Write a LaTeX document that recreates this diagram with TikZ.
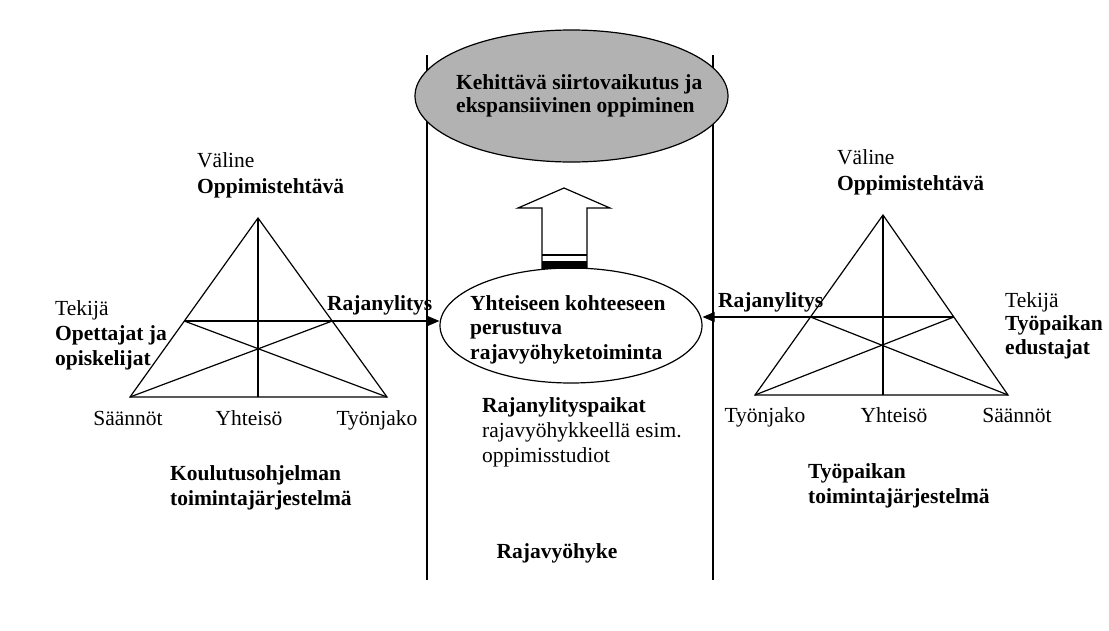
\documentclass[tikz,border=0pt]{standalone}
\usepackage{fontspec}
\setmainfont{Liberation Serif}
\usetikzlibrary{arrows.meta,shapes.geometric}
\begin{document}
\begin{tikzpicture}[x=1pt,y=-1pt,
  every node/.style={font=\fontsize{21.5}{24.5}\selectfont, inner sep=0pt},
  lab/.style={anchor=base west, align=left},
  mid/.style={anchor=base},
  ln/.style={line width=1.2pt, line join=miter},
  link/.style={line width=1.2pt, -{Triangle[length=12pt,width=10pt]}}
]
\useasboundingbox[fill=white] (0,0) rectangle (1109,630);

% boundary lines of the border zone
\coordinate (V1t) at (427,55);  \coordinate (V1b) at (427,580);
\coordinate (V2t) at (713,55);  \coordinate (V2b) at (713,580);
\draw[ln] (V1t) -- (V1b);
\draw[ln] (V2t) -- (V2b);

% left activity triangle
\coordinate (LA) at (258,218);
\coordinate (LB) at (130,397);
\coordinate (LC) at (387,397);
\coordinate (LM) at (258,397);
\coordinate (LP) at (184.3,321);
\coordinate (LQ) at (332.2,321);
\draw[ln] (LA) -- (LB) -- (LC) -- cycle;
\draw[ln] (LA) -- (LM);
\draw[ln] (LP) -- (LQ);
\draw[ln] (LP) -- (LC);
\draw[ln] (LQ) -- (LB);

% right activity triangle
\coordinate (RA) at (883,215);
\coordinate (RB) at (755,395);
\coordinate (RC) at (1008,395);
\coordinate (RM) at (883,395);
\coordinate (RP) at (810.5,317);
\coordinate (RQ) at (953.8,317);
\draw[ln] (RA) -- (RB) -- (RC) -- cycle;
\draw[ln] (RA) -- (RM);
\draw[ln] (RP) -- (RQ);
\draw[ln] (RP) -- (RC);
\draw[ln] (RQ) -- (RB);

% top ellipse
\node[ellipse, draw, line width=1.2pt, fill=black!30, minimum width=313pt, minimum height=132pt] (top) at (571.5,96) {};
% centre ellipse
\node[ellipse, draw, line width=1.2pt, minimum width=262pt, minimum height=115pt] (cen) at (571,325.5) {};

% big up arrow
\draw[ln, fill=white] (542,269) -- (542,208) -- (518,208) -- (564,188) -- (610,208) -- (587,208) -- (587,268.5);
\draw[line width=1.2pt] (542,255) -- (587,255);
\fill (542,261) rectangle (587,268.5);

% boundary-crossing arrows
\draw[link] (LQ) -- (LQ -| cen.west);
\draw[link] (RP) -- (RP -| cen.east);

% texts, left (base anchor = baseline of last line)
\node[lab, font=\fontsize{21.5}{26}\selectfont] (lv) at (197,193) {Väline\\\textbf{Oppimistehtävä}};
\node[lab, font=\fontsize{21.5}{25}\selectfont] (lt) at (55,365) {Tekijä\\\textbf{Opettajat ja}\\\textbf{opiskelijat}};
\node[lab] (lr) at (327,310) {\textbf{Rajanylitys}};
\node[mid] (ls) at (128,425) {Säännöt};
\node[mid] (ly) at (249,425) {Yhteisö};
\node[mid] (lw) at (377,425) {Työnjako};
\node[lab, font=\fontsize{21.5}{25}\selectfont] (lk) at (170,505) {\textbf{Koulutusohjelman}\\\textbf{toimintajärjestelmä}};

% texts, right
\node[lab, font=\fontsize{21.5}{26}\selectfont] (rv) at (837,190) {Väline\\\textbf{Oppimistehtävä}};
\node[lab, font=\fontsize{21.5}{23.5}\selectfont] (rt) at (1005,354) {Tekijä\\\textbf{Työpaikan}\\\textbf{edustajat}};
\node[lab] (rr) at (718,307) {\textbf{Rajanylitys}};
\node[mid] (rw) at (765,422) {Työnjako};
\node[mid] (ry) at (894,422) {Yhteisö};
\node[mid] (rs) at (1017,422) {Säännöt};
\node[lab, font=\fontsize{21.5}{25}\selectfont] (rk) at (808,503) {\textbf{Työpaikan}\\\textbf{toimintajärjestelmä}};

% texts, centre
\node[lab, font=\fontsize{21.5}{23}\selectfont] (tt) at (456,112) {\textbf{Kehittävä siirtovaikutus ja}\\\textbf{ekspansiivinen oppiminen}};
\node[lab] (ct) at (470,359) {\textbf{Yhteiseen kohteeseen}\\\textbf{perustuva}\\\textbf{rajavyöhyketoiminta}};
\node[lab, font=\fontsize{21.5}{25}\selectfont] (cp) at (482,462) {\textbf{Rajanylityspaikat}\\rajavyöhykkeellä esim.\\oppimisstudiot};
\node[mid] (cz) at (557,558) {\textbf{Rajavyöhyke}};
\end{tikzpicture}
\end{document}
